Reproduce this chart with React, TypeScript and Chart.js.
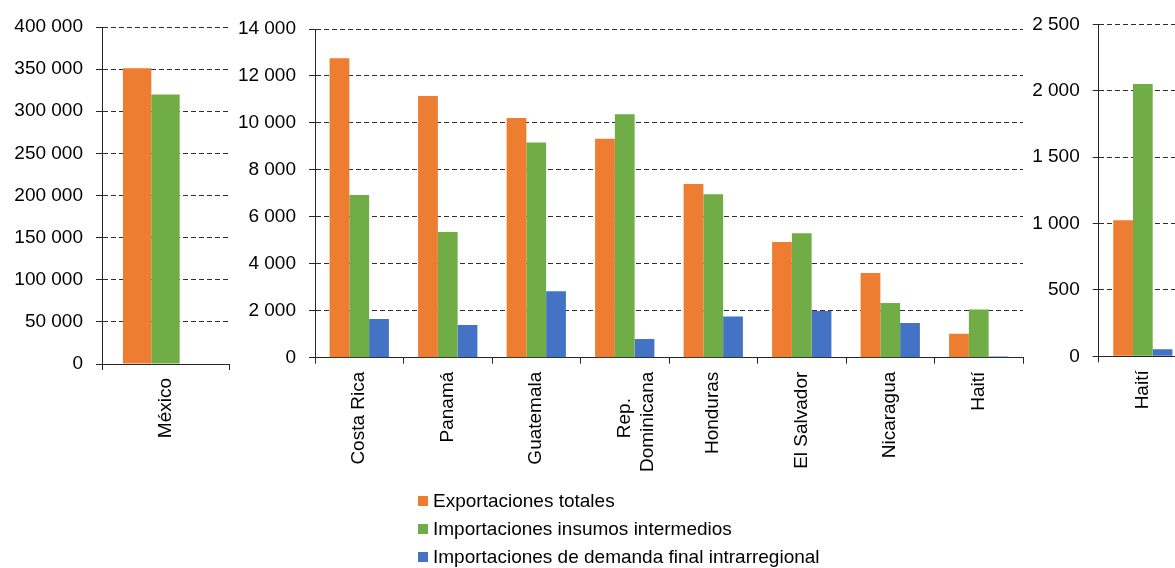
import React, { useEffect, useRef } from "react";
import { Chart, registerables } from "chart.js";

Chart.register(...registerables);

const FONT = "'Liberation Sans', Arial, Helvetica, sans-serif";
Chart.defaults.font.family = FONT;

const seriesNames = [
  "Exportaciones totales",
  "Importaciones insumos intermedios",
  "Importaciones de demanda final intrarregional",
];
const seriesColors = ["#ED7D31", "#70AD47", "#4472C4"];

// Panel 1: México
const mexicoLabels = ["México"];
const mexicoExport = [351000];
const mexicoIntermediate = [320000];
const mexicoFinal = [null];
const mexicoMax = 400000;
const mexicoStep = 50000;

// Panel 2: Centroamérica y Caribe
const centralLabels = [
  "Costa Rica",
  "Panamá",
  "Guatemala",
  ["Rep.     ", "Dominicana"],
  "Honduras",
  "El Salvador",
  "Nicaragua",
  "Haití",
];
const centralExport = [12750, 11150, 10210, 9330, 7400, 4930, 3610, 1024];
const centralIntermediate = [6930, 5350, 9170, 10370, 6960, 5300, 2330, 2052];
const centralFinal = [1650, 1390, 2830, 800, 1760, 1990, 1480, 54];
const centralMax = 14000;
const centralStep = 2000;

// Panel 3: Haití (zoom)
const haitiLabels = ["Haití"];
const haitiExport = [1024];
const haitiIntermediate = [2052];
const haitiFinal = [54];
const haitiMax = 2500;
const haitiStep = 500;

const H = 568;

function fmt(v: number | string) {
  return String(v).replace(/\B(?=(\d{3})+(?!\d))/g, " ");
}

type PanelProps = {
  left: number;
  width: number;
  axisX: number;
  top: number;
  bottom: number;
  labels: any[];
  series: (number | null)[][];
  max: number;
  step: number;
};

function Panel({ left, width, axisX, top, bottom, labels, series, max, step }: PanelProps) {
  const ref = useRef<HTMLCanvasElement>(null);
  useEffect(() => {
    if (!ref.current) return;
    const chart = new Chart(ref.current, {
      type: "bar",
      data: {
        labels,
        datasets: series.map((d, i) => ({
          label: seriesNames[i],
          data: d,
          backgroundColor: seriesColors[i],
          categoryPercentage: 0.67,
          barPercentage: 1,
        })),
      },
      options: {
        responsive: false,
        animation: false,
        layout: { padding: { top, right: 3, left: 0, bottom: 0 } },
        plugins: { legend: { display: false }, tooltip: { enabled: false } },
        scales: {
          x: {
            grid: {
              drawOnChartArea: false,
              drawTicks: true,
              tickLength: 6,
              tickColor: "#262626",
              tickWidth: 1,
              offset: true,
            },
            border: { display: true, color: "#262626", width: 1 },
            ticks: {
              maxRotation: 90,
              minRotation: 90,
              padding: 8,
              color: "#000",
              font: { size: 19, family: FONT },
              autoSkip: false,
            },
            afterFit: (s: any) => {
              s.height = H - bottom;
            },
          },
          y: {
            min: 0,
            max,
            ticks: {
              stepSize: step,
              padding: 13,
              color: "#000",
              font: { size: 19, family: FONT },
              callback: (v: any) => fmt(v),
            },
            grid: {
              color: "#2e2e2e",
              lineWidth: 1,
              drawTicks: true,
              tickLength: 6,
              tickColor: "#262626",
              tickWidth: 1,
              tickBorderDash: [],
            },
            border: { display: true, color: "#262626", width: 1, dash: [5, 3] },
            afterFit: (s: any) => {
              s.width = axisX - left;
            },
          },
        },
      } as any,
    });
    return () => chart.destroy();
  }, []);
  return (
    <canvas
      ref={ref}
      width={width}
      height={H}
      style={{ position: "absolute", left, top: 0, width, height: H }}
    />
  );
}

export default function App() {
  return (
    <div
      style={{
        position: "fixed",
        left: 0,
        top: 0,
        width: 1175,
        height: 568,
        overflow: "hidden",
        background: "#fff",
      }}
    >
      <Panel
        left={0}
        width={232}
        axisX={102}
        top={27}
        bottom={364}
        labels={mexicoLabels}
        series={[mexicoExport, mexicoIntermediate, mexicoFinal]}
        max={mexicoMax}
        step={mexicoStep}
      />
      <Panel
        left={230}
        width={796}
        axisX={315}
        top={29}
        bottom={357.7}
        labels={centralLabels}
        series={[centralExport, centralIntermediate, centralFinal]}
        max={centralMax}
        step={centralStep}
      />
      <Panel
        left={1020}
        width={170}
        axisX={1098.7}
        top={21}
        bottom={356.3}
        labels={haitiLabels}
        series={[haitiExport, haitiIntermediate, haitiFinal]}
        max={haitiMax}
        step={haitiStep}
      />
      <div
        style={{
          position: "absolute",
          left: 418,
          top: 487,
          fontFamily: FONT,
          fontSize: 19,
          color: "#000",
          whiteSpace: "nowrap",
        }}
      >
        {seriesNames.map((n, i) => (
          <div key={n} style={{ display: "flex", alignItems: "center", height: 28 }}>
            <span
              style={{
                display: "inline-block",
                width: 10,
                height: 10,
                background: seriesColors[i],
                marginRight: 5,
              }}
            />
            {n}
          </div>
        ))}
      </div>
    </div>
  );
}
